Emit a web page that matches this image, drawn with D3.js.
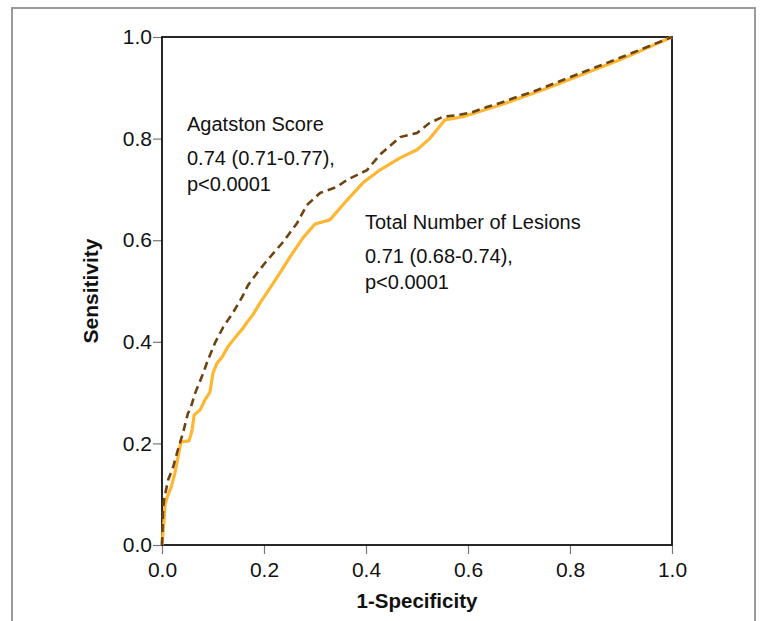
<!DOCTYPE html>
<html>
<head>
<meta charset="utf-8">
<script src="https://cdn.jsdelivr.net/npm/d3@7"></script>
<style>
  html, body { margin: 0; padding: 0; background: #fff; }
  svg { display: block; font-family: "Liberation Sans", Arial, sans-serif; }
</style>
</head>
<body>
<svg id="chart" width="760" height="621"></svg>
<script>
// ROC curves: Agatston score (dashed) vs total number of lesions (solid)

const lesionsFpr = [0, 0.004, 0.006, 0.010, 0.018, 0.025, 0.031, 0.037, 0.053, 0.059, 0.063, 0.075, 0.084, 0.094,
  0.100, 0.108, 0.118, 0.129, 0.147, 0.159, 0.167, 0.178, 0.192, 0.212, 0.231, 0.251, 0.276, 0.300, 0.329,
  0.363, 0.394, 0.427, 0.467, 0.500, 0.525, 0.555, 0.590, 0.663, 0.747, 0.780, 0.898, 1.0];
const lesionsTpr = [0, 0.049, 0.079, 0.094, 0.114, 0.140, 0.171, 0.203, 0.205, 0.226, 0.256, 0.266, 0.285, 0.301,
  0.339, 0.358, 0.370, 0.390, 0.413, 0.427, 0.439, 0.453, 0.476, 0.506, 0.535, 0.567, 0.604, 0.632, 0.640,
  0.679, 0.713, 0.738, 0.762, 0.778, 0.800, 0.837, 0.843, 0.866, 0.896, 0.909, 0.955, 1.0];

const agatstonFpr = [0, 0.001, 0.002, 0.004, 0.012, 0.022, 0.031, 0.041, 0.051, 0.055, 0.065, 0.078, 0.090, 0.104,
  0.120, 0.139, 0.157, 0.169, 0.186, 0.202, 0.212, 0.237, 0.265, 0.284, 0.310, 0.343, 0.363, 0.382, 0.402,
  0.427, 0.467, 0.500, 0.525, 0.551, 0.578, 0.608, 0.637, 0.663, 0.696, 0.727, 0.780, 0.898, 1.0];
const agatstonTpr = [0, 0.030, 0.069, 0.089, 0.128, 0.154, 0.187, 0.220, 0.260, 0.266, 0.299, 0.331, 0.364, 0.398,
  0.429, 0.457, 0.488, 0.512, 0.535, 0.555, 0.567, 0.596, 0.634, 0.669, 0.693, 0.705, 0.719, 0.728, 0.738,
  0.768, 0.803, 0.811, 0.831, 0.843, 0.846, 0.852, 0.862, 0.870, 0.882, 0.892, 0.913, 0.959, 1.0];

const ticks = [0, 0.2, 0.4, 0.6, 0.8, 1.0];
const agatstonLabel = ["Agatston Score", "0.74 (0.71-0.77),", "p<0.0001"];
const lesionsLabel = ["Total Number of Lesions", "0.71 (0.68-0.74),", "p<0.0001"];

const LEFT = 162, RIGHT = 672, TOP = 37, BOTTOM = 545;
const FONT = "'Liberation Sans', Arial, Helvetica, sans-serif";

const svg = d3.select("#chart");

// outer figure frame (open at the bottom)
svg.append("path")
  .attr("d", "M12,621 V8 H755 V621")
  .attr("fill", "none").attr("stroke", "#9a9a9a").attr("stroke-width", 2);

const x = d3.scaleLinear().domain([0, 1]).range([LEFT, RIGHT]);
const y = d3.scaleLinear().domain([0, 1]).range([BOTTOM, TOP]);

const styleAxis = (s) => {
  s.select(".domain").remove();
  s.selectAll(".tick line").attr("stroke", "#777").attr("stroke-width", 1.2);
  s.selectAll("text").style("font", `21px ${FONT}`).style("fill", "#111");
};

svg.append("g").attr("transform", `translate(0,${BOTTOM})`)
  .call(d3.axisBottom(x).tickValues(ticks).tickFormat(d3.format(".1f")).tickSize(9).tickPadding(8))
  .call(styleAxis);
svg.append("g").attr("transform", `translate(${LEFT},0)`)
  .call(d3.axisLeft(y).tickValues(ticks).tickFormat(d3.format(".1f")).tickSize(9).tickPadding(1))
  .call(styleAxis);

// plot box
svg.append("rect")
  .attr("x", LEFT).attr("y", TOP).attr("width", RIGHT - LEFT).attr("height", BOTTOM - TOP)
  .attr("fill", "none").attr("stroke", "#111").attr("stroke-width", 1.8);

const line = d3.line().x((d) => x(d[0])).y((d) => y(d[1]));

svg.append("path")
  .datum(d3.zip(lesionsFpr, lesionsTpr))
  .attr("d", line)
  .attr("fill", "none").attr("stroke", "#fdb733").attr("stroke-width", 3.2)
  .attr("stroke-linejoin", "round");

svg.append("path")
  .datum(d3.zip(agatstonFpr, agatstonTpr))
  .attr("d", line)
  .attr("fill", "none").attr("stroke", "#6e4310").attr("stroke-width", 2.6)
  .attr("stroke-dasharray", "8,5");

const addLabel = (lines, lx, ly) => {
  const gap = [0, 34, 26];
  let yy = ly;
  lines.forEach((t, i) => {
    yy += gap[i];
    svg.append("text").attr("x", lx).attr("y", yy)
      .style("font", `20px ${FONT}`).style("fill", "#111").text(t);
  });
};
addLabel(agatstonLabel, 187, 131);
addLabel(lesionsLabel, 365, 229);

svg.append("text")
  .attr("x", (LEFT + RIGHT) / 2).attr("y", 608).attr("text-anchor", "middle")
  .style("font", `bold 20.5px ${FONT}`).style("fill", "#111")
  .text("1-Specificity");
svg.append("text")
  .attr("transform", `translate(98,${(TOP + BOTTOM) / 2}) rotate(-90)`)
  .attr("text-anchor", "middle")
  .style("font", `bold 21px ${FONT}`).style("fill", "#111")
  .text("Sensitivity");
</script>
</body>
</html>
